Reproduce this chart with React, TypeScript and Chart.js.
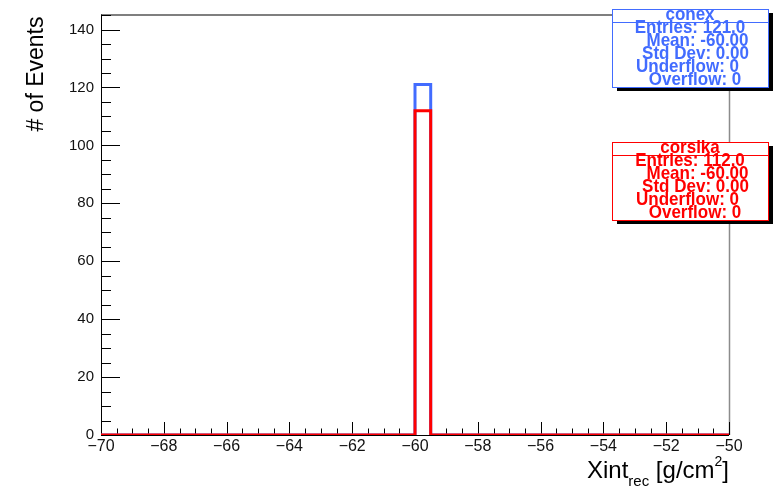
import React, { useEffect, useRef } from "react";
import { Chart, registerables } from "chart.js";

Chart.register(...registerables);

// ---- data ----
const binEdges = [-70, -60, -59.5, -50];
const conexCounts = [0, 121, 0];
const corsikaCounts = [0, 112, 0];

const xTickValues = [-70, -68, -66, -64, -62, -60, -58, -56, -54, -52, -50];
const yTickValues = [0, 20, 40, 60, 80, 100, 120, 140];

const X_MIN = -70;
const X_MAX = -50;
const Y_MIN = 0;
const Y_MAX = 145.2;
const X_MINOR_STEP = 0.5;
const Y_MINOR_STEP = 5;

const conexTitle = "conex";
const conexStats = ["Entries: 121.0", "Mean: -60.00", "Std Dev: 0.00", "Underflow: 0", "Overflow: 0"];
const corsikaTitle = "corsika";
const corsikaStats = ["Entries: 112.0", "Mean: -60.00", "Std Dev: 0.00", "Underflow: 0", "Overflow: 0"];

const BLUE = "rgb(66,108,255)";
const RED = "rgb(255,0,0)";
const FONT = "'Liberation Sans', Arial, Helvetica, sans-serif";

function stepPoints(edges: number[], counts: number[]) {
  const pts = counts.map((c, i) => ({ x: edges[i], y: c }));
  pts.push({ x: edges[edges.length - 1], y: counts[counts.length - 1] });
  return pts;
}

function fmt(v: number) {
  return v < 0 ? "\u2212" + Math.abs(v) : String(v);
}

function line(ctx: CanvasRenderingContext2D, x1: number, y1: number, x2: number, y2: number) {
  ctx.beginPath();
  ctx.moveTo(x1, y1);
  ctx.lineTo(x2, y2);
  ctx.stroke();
}

function drawStats(
  ctx: CanvasRenderingContext2D,
  bx: number,
  by: number,
  title: string,
  lines: string[],
  color: string
) {
  const w = 156;
  const h = 78;
  ctx.fillStyle = "#000";
  ctx.fillRect(bx + 5, by + 4, w, h);
  ctx.fillStyle = "#fff";
  ctx.fillRect(bx, by, w, h);
  ctx.strokeStyle = color;
  ctx.lineWidth = 1;
  ctx.strokeRect(bx + 0.5, by + 0.5, w, h);
  line(ctx, bx, by + 13.5, bx + w, by + 13.5);
  ctx.fillStyle = color;
  ctx.textAlign = "center";
  ctx.textBaseline = "alphabetic";
  const centers = [78, 85.5, 83.5, 75.5, 83];
  ctx.save();
  ctx.translate(bx, by);
  ctx.scale(1, 1.08);
  ctx.font = `bold 17px ${FONT}`;
  ctx.fillText(title, w / 2, 10.5 / 1.08);
  lines.forEach((t, i) => {
    ctx.fillText(t, centers[i], (24 + 13 * i) / 1.08);
  });
  ctx.restore();
}

const rootPlugin = {
  id: "rootDecor",
  beforeDatasetsDraw(chart: any) {
    const { ctx, chartArea: a, scales } = chart;
    const x = scales.x;
    const y = scales.y;
    ctx.save();
    // frame top/right
    ctx.strokeStyle = "#555";
    ctx.lineWidth = 1.5;
    line(ctx, a.left, a.top + 0.5, a.right, a.top + 0.5);
    ctx.strokeStyle = "#8c8c8c";
    line(ctx, a.right + 0.5, a.top, a.right + 0.5, a.bottom);
    // axes
    ctx.strokeStyle = "#000";
    ctx.lineWidth = 1;
    line(ctx, a.left + 0.5, a.top, a.left + 0.5, a.bottom + 0.5);
    line(ctx, a.left, a.bottom + 0.5, a.right, a.bottom + 0.5);
    // x ticks
    const nx = Math.round((X_MAX - X_MIN) / X_MINOR_STEP);
    for (let i = 0; i <= nx; i++) {
      const v = X_MIN + i * X_MINOR_STEP;
      const major = xTickValues.some((t) => Math.abs(t - v) < 1e-6);
      const px = Math.round(x.getPixelForValue(v)) + 0.5;
      line(ctx, px, a.bottom, px, a.bottom - (major ? 13 : 6.5));
    }
    // y ticks
    const ny = Math.floor((Y_MAX - Y_MIN) / Y_MINOR_STEP);
    for (let i = 0; i <= ny; i++) {
      const v = Y_MIN + i * Y_MINOR_STEP;
      const major = yTickValues.some((t) => Math.abs(t - v) < 1e-6);
      const py = Math.round(y.getPixelForValue(v)) + 0.5;
      line(ctx, a.left, py, a.left + (major ? 19 : 10), py);
    }
    ctx.restore();
  },
  afterDraw(chart: any) {
    const { ctx, chartArea: a } = chart;
    ctx.save();
    drawStats(ctx, 612, 9, conexTitle, conexStats, BLUE);
    drawStats(ctx, 612, 142, corsikaTitle, corsikaStats, RED);

    // y title
    ctx.fillStyle = "#000";
    ctx.font = `23px ${FONT}`;
    ctx.textAlign = "right";
    ctx.textBaseline = "alphabetic";
    ctx.save();
    ctx.translate(43, a.top + 2);
    ctx.rotate(-Math.PI / 2);
    ctx.fillText("# of Events", 0, 0);
    ctx.restore();

    // x title: Xint_{rec} [g/cm^{2}]
    const parts = [
      { t: "Xint", size: 24, dy: 0 },
      { t: "rec", size: 15, dy: 8 },
      { t: " [g/cm", size: 24, dy: 0 },
      { t: "2", size: 14, dy: -12 },
      { t: "]", size: 24, dy: 0 },
    ];
    let total = 0;
    const widths = parts.map((p) => {
      ctx.font = `${p.size}px ${FONT}`;
      const w = ctx.measureText(p.t).width;
      total += w;
      return w;
    });
    let cx = a.right - total;
    const base = 478;
    ctx.textAlign = "left";
    parts.forEach((p, i) => {
      ctx.font = `${p.size}px ${FONT}`;
      ctx.fillText(p.t, cx, base + p.dy);
      cx += widths[i];
    });
    ctx.restore();
  },
};

export default function App() {
  const ref = useRef<HTMLCanvasElement | null>(null);

  useEffect(() => {
    if (!ref.current) return;
    const chart = new Chart(ref.current, {
      type: "line",
      data: {
        datasets: [
          {
            label: "conex",
            data: stepPoints(binEdges, conexCounts),
            borderColor: BLUE,
            borderWidth: 3,
            pointRadius: 0,
            stepped: true,
            fill: false,
            order: 2,
          },
          {
            label: "corsika",
            data: stepPoints(binEdges, corsikaCounts),
            borderColor: RED,
            borderWidth: 3,
            pointRadius: 0,
            stepped: true,
            fill: false,
            order: 1,
          },
        ],
      },
      options: {
        animation: false,
        responsive: false,
        devicePixelRatio: 1,
        layout: { padding: { top: 8, right: 51, left: 0, bottom: 0 } },
        plugins: { legend: { display: false }, tooltip: { enabled: false } },
        scales: {
          x: {
            type: "linear",
            min: X_MIN,
            max: X_MAX,
            grid: { display: false, drawTicks: false },
            border: { display: false },
            afterBuildTicks: (s: any) => {
              s.ticks = xTickValues.map((v) => ({ value: v }));
            },
            afterFit: (s: any) => {
              s.height = 54;
            },
            ticks: {
              padding: 4,
              color: "#111",
              font: { family: FONT, size: 16, lineHeight: 1 },
              maxRotation: 0,
              autoSkip: false,
              callback: (v: any) => fmt(Number(v)),
            },
          },
          y: {
            type: "linear",
            min: Y_MIN,
            max: Y_MAX,
            grid: { display: false, drawTicks: false },
            border: { display: false },
            afterBuildTicks: (s: any) => {
              s.ticks = yTickValues.map((v) => ({ value: v }));
            },
            afterFit: (s: any) => {
              s.width = 101;
            },
            ticks: {
              padding: 7,
              color: "#111",
              font: { family: FONT, size: 15, lineHeight: 1 },
              autoSkip: false,
              callback: (v: any) => fmt(Number(v)),
            },
          },
        },
      },
      plugins: [rootPlugin],
    });
    return () => chart.destroy();
  }, []);

  return (
    <div style={{ position: "absolute", left: 0, top: 0, width: 780, height: 489, background: "#fff" }}>
      <canvas ref={ref} width={780} height={489} style={{ display: "block" }} />
    </div>
  );
}
